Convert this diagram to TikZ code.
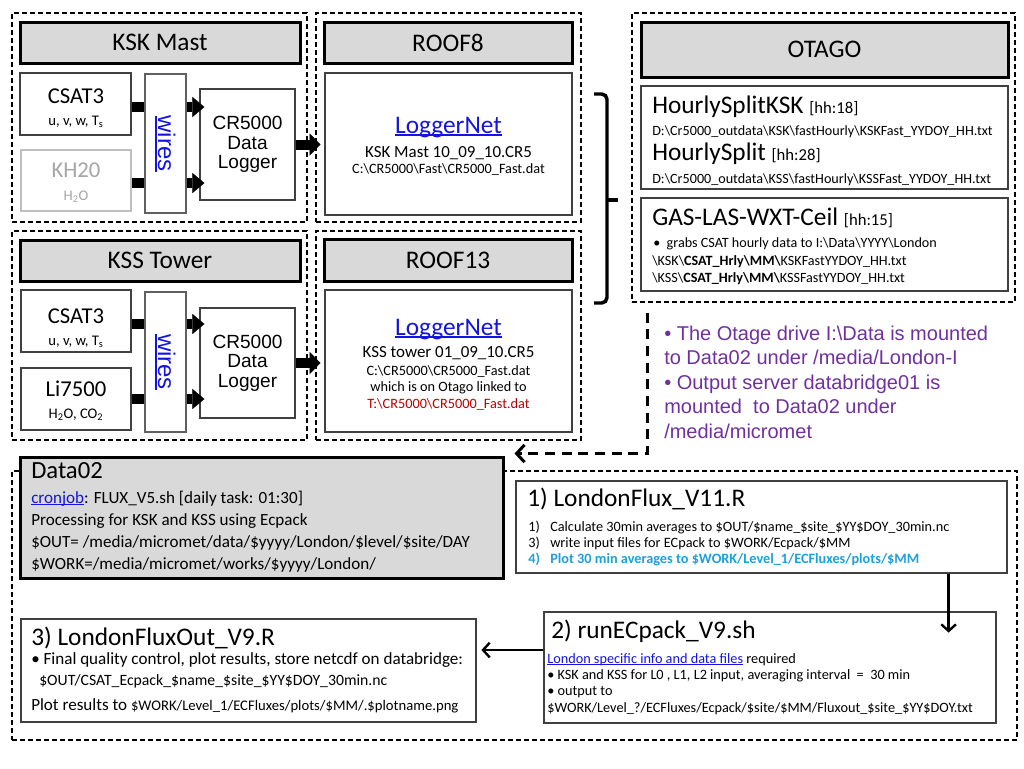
\documentclass[tikz,border=0pt]{standalone}
\usepackage{fontspec}
\setmainfont{Carlito}
\newfontfamily\arialf{Liberation Sans}
\usetikzlibrary{arrows.meta,fit}
\definecolor{hdrgray}{HTML}{D9D9D9}
\definecolor{bordgray}{HTML}{404040}
\definecolor{wiregray}{HTML}{606060}
\definecolor{linkblue}{HTML}{1414E0}
\definecolor{cyanblue}{HTML}{1EA0DC}
\definecolor{purp}{HTML}{7030A0}
\definecolor{darkred}{HTML}{C00000}
\definecolor{lighttext}{HTML}{A6A6A6}
\definecolor{lightborder}{HTML}{BFBFBF}
\newcommand{\bsl}{\textbackslash}
\newcommand{\fs}[2]{\fontsize{#1pt}{#2pt}\selectfont}
\newcommand{\myul}[1]{\setbox0\hbox{#1}\rlap{\rule[-0.12em]{\wd0}{0.065em}}\box0}
\begin{document}
\begin{tikzpicture}[x=0.75pt,y=-0.75pt,
 dbox/.style={draw, line width=0.9pt, dash pattern=on 3.6pt off 2.4pt, inner sep=0pt},
 hdr/.style={draw, line width=2.25pt, fill=hdrgray, inner sep=0pt},
 hdrtxt/.style={inner sep=0pt, anchor=center, font=\fs{19}{23}},
 cbox/.style={draw=bordgray, line width=0.9pt, fill=white, inner sep=0pt},
 tx/.style={inner sep=0pt, anchor=base west},
 txc/.style={inner sep=0pt, anchor=base},
 crtxt/.style={inner sep=0pt, anchor=center, font=\arialf\fs{14.3}{14.5}, align=center},
 wiretxt/.style={rotate=-90, inner sep=0pt, font=\arialf\fs{18}{20}, text=linkblue},
 bar/.style={line width=7.5pt},
 fat/.style={line width=7.5pt, shorten >=-3.75pt, -{Triangle[length=9pt,width=15pt,line width=0.1pt]}},
 fatb/.style={line width=7.5pt, shorten >=3pt, -{Triangle[length=8pt,width=16.5pt,line width=0.1pt]}},
 thinarr/.style={line width=1.8pt, -{Straight Barb[length=5pt,width=11pt]}},
 dasharr/.style={line width=2.25pt, dash pattern=on 7.5pt off 5pt, -{Straight Barb[length=6pt,width=13pt]}},
 big/.style={font=\fs{19}{23}},
 f17/.style={font=\fs{17}{20}},
 f12/.style={font=\fs{12.7}{15}},
 f11/.style={font=\fs{11}{13}},
 f10/.style={font=\fs{10.7}{13}},
 f105/.style={font=\fs{10.6}{12.5}},
 fo/.style={font=\fs{12.8}{15}},
 purtxt/.style={inner sep=0pt, anchor=base west, font=\arialf\fs{15}{18}, text=purp}
]
\useasboundingbox (0,0) rectangle (1024,768);

% ---------------- KSK Mast ----------------
\node[dbox, fit={(12,13) (307,222)}] (kskd) {};
\node[hdr, fit={(20,22) (300,63)}] (kskh) {};
\node[hdrtxt] (kskht) at (kskh.center) {KSK Mast};
\node[cbox, fit={(20,73) (131,135)}] (csat1) {};
\node[txc, f17] (csat1a) at (76,103) {CSAT3};
\node[txc, f11] (csat1b) at (76,125) {u, v, w, T\textsubscript{s}};
\node[cbox, draw=lightborder, fit={(21,150) (131,211)}] (kh20) {};
\node[txc, f17, text=lighttext] (kh20a) at (76,177) {KH20};
\node[txc, f11, text=lighttext] (kh20b) at (76,200) {H\textsubscript{2}O};
\node[cbox, draw=wiregray, fit={(145,74) (186,213)}] (wires1) {};
\node[wiretxt] (wires1t) at (wires1.center) {\myul{wires}};
\node[cbox, fit={(200,89) (295,200)}] (cr1) {};
\node[crtxt] (cr1t) at (cr1.center) {CR5000\\Data\\Logger};

\coordinate (a1) at ([yshift=-2.25pt]csat1.east);
\coordinate (a2) at ([yshift=-1.9pt]kh20.east);
\draw[bar] (a1) -- (a1 -| wires1.west);
\draw[bar] (a2) -- (a2 -| wires1.west);
\draw[fat] (a1 -| wires1.east) -- (a1 -| cr1.west);
\draw[fat] (a2 -| wires1.east) -- (a2 -| cr1.west);

% ---------------- ROOF8 ----------------
\node[dbox, fit={(316,13) (581,222)}] (r8d) {};
\node[hdr, fit={(324,22) (572,63)}] (r8h) {};
\node[hdrtxt] (r8ht) at (r8h.center) {ROOF8};
\node[cbox, fit={(325,73) (572,215)}] (ln1) {};
\node[txc, big, text=linkblue] (ln1a) at (448.5,133) {\myul{LoggerNet}};
\node[txc, f12] (ln1b) at (448.5,157) {KSK Mast 10\_09\_10.CR5};
\node[txc, f10] (ln1c) at (448.5,173) {C:\bsl CR5000\bsl Fast\bsl CR5000\_Fast.dat};
\draw[fatb] (cr1.east) -- (cr1.east -| ln1.west);

% ---------------- KSS Tower ----------------
\node[dbox, fit={(12,231) (307,440)}] (kssd) {};
\node[hdr, fit={(20,240) (300,281)}] (kssh) {};
\node[hdrtxt] (kssht) at (kssh.center) {KSS Tower};
\node[cbox, fit={(21,290) (131,352)}] (csat2) {};
\node[txc, f17] (csat2a) at (76,323) {CSAT3};
\node[txc, f11] (csat2b) at (76,345) {u, v, w, T\textsubscript{s}};
\node[cbox, fit={(21,368) (131,430)}] (li) {};
\node[txc, f17] (lia) at (76,396) {Li7500};
\node[txc, f11] (lib) at (76,418) {H\textsubscript{2}O, CO\textsubscript{2}};
\node[cbox, draw=wiregray, fit={(145,292) (186,432)}] (wires2) {};
\node[wiretxt] (wires2t) at (wires2.center) {\myul{wires}};
\node[cbox, fit={(200,308) (295,418)}] (cr2) {};
\node[crtxt] (cr2t) at (cr2.center) {CR5000\\Data\\Logger};

\coordinate (b1) at ([yshift=-2.25pt]csat2.east);
\coordinate (b2) at (li.east);
\draw[bar] (b1) -- (b1 -| wires2.west);
\draw[bar] (b2) -- (b2 -| wires2.west);
\draw[fat] (b1 -| wires2.east) -- (b1 -| cr2.west);
\draw[fat] (b2 -| wires2.east) -- (b2 -| cr2.west);

% ---------------- ROOF13 ----------------
\node[dbox, fit={(316,231) (581,440)}] (r13d) {};
\node[hdr, fit={(324,239) (572,281)}] (r13h) {};
\node[hdrtxt] (r13ht) at (r13h.center) {ROOF13};
\node[cbox, fit={(325,290) (572,432)}] (ln2) {};
\node[txc, big, text=linkblue] (ln2a) at (448.5,335) {\myul{LoggerNet}};
\node[txc, f12] (ln2b) at (448.5,357) {KSS tower 01\_09\_10.CR5};
\node[txc, f10] (ln2c) at (448.5,375) {C:\bsl CR5000\bsl CR5000\_Fast.dat};
\node[txc, f10] (ln2d) at (448.5,391) {which is on Otago linked to};
\node[txc, f10, text=darkred] (ln2e) at (448.5,408) {T:\bsl CR5000\bsl CR5000\_Fast.dat};
\draw[fatb] (cr2.east) -- (cr2.east -| ln2.west);

% ---------------- brace ----------------
\draw[line width=2.6pt, rounded corners=4pt] (594,94) -- (607,94) -- (607,303) -- (594,303);
\draw[line width=2.6pt] (607,200) -- (618,200);

% ---------------- OTAGO ----------------
\node[dbox, fit={(632,13) (1015,302)}] (otd) {};
\node[hdr, fit={(641,22) (1008,77)}] (oth) {};
\node[hdrtxt] (otht) at (oth.center) {OTAGO};
\node[cbox, fit={(641,86) (1008,189)}] (hs) {};
\node[tx] (hs1) at (652,113) {\fs{19}{23}HourlySplitKSK \fs{12.5}{14}[hh:18]};
\node[tx, f105] (hs2) at (652,135) {D:\bsl Cr5000\_outdata\bsl KSK\bsl fastHourly\bsl KSKFast\_YYDOY\_HH.txt};
\node[tx] (hs3) at (652,160) {\fs{19}{23}HourlySplit \fs{12.5}{14}[hh:28]};
\node[tx, f105] (hs4) at (652,183) {D:\bsl Cr5000\_outdata\bsl KSS\bsl fastHourly\bsl KSSFast\_YYDOY\_HH.txt};
\node[cbox, fit={(641,198) (1008,291)}] (gas) {};
\node[tx] (gas1) at (652,225) {\fs{19}{23}GAS-LAS-WXT-Ceil \fs{12.5}{14}[hh:15]};
\node[tx, f105] (gas2) at (653,247) {\textbullet\ \ grabs CSAT hourly data to I:\bsl Data\bsl YYYY\bsl London};
\node[tx, f105] (gas3) at (652,265) {\bsl KSK\bsl\textbf{CSAT\_Hrly\bsl MM\bsl}KSKFastYYDOY\_HH.txt};
\node[tx, f105] (gas4) at (652,282) {\bsl KSS\bsl\textbf{CSAT\_Hrly\bsl MM\bsl}KSSFastYYDOY\_HH.txt};

% ---------------- purple note ----------------
\node[purtxt] (n1) at (664,340) {\textbullet{} The Otage drive I:\bsl Data is mounted};
\node[purtxt] (n2) at (664,364.5) {to Data02 under /media/London-I};
\node[purtxt] (n3) at (664,389) {\textbullet{} Output server databridge01 is};
\node[purtxt] (n4) at (664,413.5) {mounted\ \ to Data02 under};
\node[purtxt] (n5) at (664,438) {/media/micromet};

% ---------------- bottom ----------------
\node[dbox, fit={(12,471) (1017,740)}] (botd) {};
\node[draw, line width=2.25pt, fill=hdrgray, inner sep=0pt, fit={(20,457) (503,578)}] (d02) {};
\node[tx, font=\fs{18.5}{22}] (d02a) at (31,478) {Data02};
\node[tx, font=\fs{12.8}{15}] (d02b) at (31,503) {\textcolor{linkblue}{\myul{cronjob}}: FLUX\_V5.sh [daily task: 01:30]};
\node[tx, font=\fs{12.8}{15}] (d02c) at (31,525) {Processing for KSK and KSS using Ecpack};
\node[tx, font=\fs{12.8}{15}] (d02d) at (31,547) {\$OUT= /media/micromet/data/\$yyyy/London/\$level/\$site/DAY};
\node[tx, font=\fs{12.8}{15}] (d02e) at (31,569) {\$WORK=/media/micromet/works/\$yyyy/London/};

\coordinate (ds) at ([xshift=12pt,yshift=-7.5pt]otd.south west);
\draw[dasharr] (ds) |- ([xshift=7.5pt,yshift=1.5pt]d02.north east);

\node[cbox, fit={(516,481) (1007,573)}] (lf) {};
\node[tx, big] (lf0) at (527,506) {1) LondonFlux\_V11.R};
\node[tx, f10] (lf1n) at (528,531) {1)};
\node[tx, f10] (lf1) at (550,531) {Calculate 30min averages to \$OUT/\$name\_\$site\_\$YY\$DOY\_30min.nc};
\node[tx, f10] (lf2n) at (528,547) {3)};
\node[tx, f10] (lf2) at (550,547) {write input files for ECpack to \$WORK/Ecpack/\$MM};
\node[tx, f10, text=cyanblue] (lf3n) at (528,563) {\bfseries 4)};
\node[tx, f10, text=cyanblue] (lf3) at (550,563) {\bfseries Plot 30 min averages to \$WORK/Level\_1/ECFluxes/plots/\$MM};

\node[cbox, fit={(544,612) (996,723)}] (rc) {};
\node[tx, big] (rc0) at (551,638) {2) runECpack\_V9.sh};
\node[tx, f10] (rc1) at (547,663) {\textcolor{linkblue}{\myul{London specific info and data files}} required};
\node[tx, f10] (rc2) at (547,679) {\textbullet{} KSK and KSS for L0 , L1, L2 input, averaging interval\ \ =\ \ 30 min};
\node[tx, f10] (rc3) at (547,695) {\textbullet{} output to};
\node[tx, f10] (rc4) at (547,712) {\$WORK/Level\_?/ECFluxes/Ecpack/\$site/\$MM/Fluxout\_\$site\_\$YY\$DOY.txt};

\node[cbox, fit={(21,619) (476,722)}] (fo) {};
\node[tx, big] (fo0) at (31,645) {3) LondonFluxOut\_V9.R};
\node[tx, fo] (fo1) at (31,664) {\textbullet{} Final quality control, plot results, store netcdf on databridge:};
\node[tx, font=\fs{11.8}{14}] (fo2) at (39,685) {\$OUT/CSAT\_Ecpack\_\$name\_\$site\_\$YY\$DOY\_30min.nc};
\node[tx, fo] (fo3) at (31,710) {Plot results to \fs{11}{13}\$WORK/Level\_1/ECFluxes/plots/\$MM/.\$plotname.png};

\draw[thinarr] ([xshift=-44.25pt]lf.south east) -- ++(0,59);
\draw[thinarr] ([yshift=13.1pt]rc.west) -- ++(-62,0);
\end{tikzpicture}
\end{document}
